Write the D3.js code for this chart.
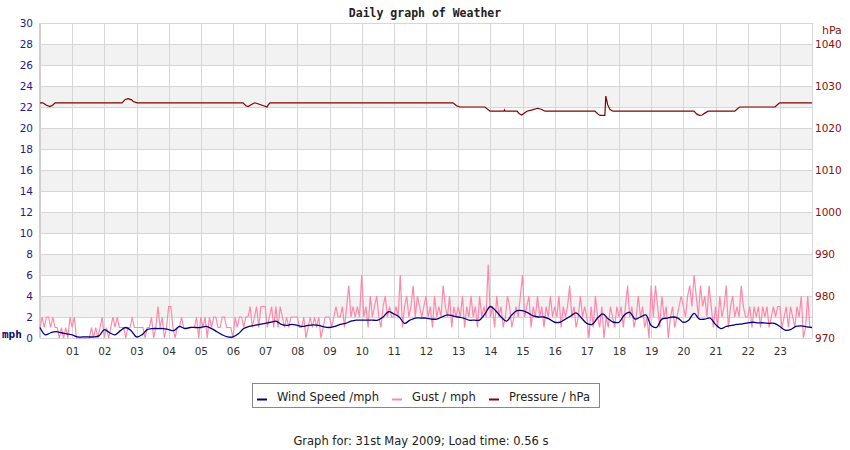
<!DOCTYPE html>
<html>
<head>
<meta charset="utf-8">
<script src="https://cdn.jsdelivr.net/npm/d3@7"></script>
<style>
body { margin:0; background:#fff; }
text { font-family: "DejaVu Sans", sans-serif; }
.title { font-family: "DejaVu Sans Mono", monospace; font-weight:bold; font-size:11.5px; fill:#222; }
.unit { font-family: "DejaVu Sans Mono", monospace; font-weight:bold; font-size:11px; fill:#0a0a70; }
.laxis text { fill:#1c1c8c; font-size:10.5px; }
.raxis text { fill:#8b1010; font-size:10.5px; }
.xaxis text { fill:#333; font-size:10.5px; }
.legend_text { font-size:11.5px; fill:#222; }
.foot { font-size:11.5px; fill:#222; }
</style>
</head>
<body>
<div id="chart"></div>
<script>
// hour labels along the bottom
var hourLabels = ["01","02","03","04","05","06","07","08","09","10","11","12","13","14","15","16","17","18","19","20","21","22","23"];
var mphTicks = [0,2,4,6,8,10,12,14,16,18,20,22,24,26,28,30];
var hpaTicks = [970,980,990,1000,1010,1020,1030,1040];

// wind speed, mph, one row per hour, every 10 minutes
var windRows = [
 [1.0,0.3,0.5,0.6,0.5,0.4],
 [0.3,0.1,0.1,0.1,0.1,0.2],
 [0.8,0.5,0.3,0.7,1.0,0.7],
 [0.1,0.3,0.8,0.9,0.9,0.9],
 [0.8,0.7,1.1,0.9,1.0,1.0],
 [1.0,1.1,0.9,0.6,0.3,0.1],
 [0.1,0.4,0.9,1.1,1.2,1.3],
 [1.4,1.5,1.6,1.3,1.2,1.3],
 [1.2,1.1,1.2,1.25,1.2,1.05],
 [1.0,1.1,1.3,1.4,1.6,1.7],
 [1.7,1.7,1.7,1.7,2.0,2.5],
 [2.3,2.0,1.4,1.7,1.9,1.9],
 [1.9,1.8,1.8,2.0,2.2,2.1],
 [2.0,1.9,1.7,1.7,1.7,2.3],
 [3.0,2.6,2.0,1.6,2.2,2.6],
 [2.6,2.4,2.1,2.0,2.0,1.8],
 [1.5,1.5,1.8,2.1,2.4,1.9],
 [1.4,1.3,1.9,2.3,1.8,1.5],
 [1.5,2.2,2.45,1.8,2.0,2.2],
 [1.2,1.0,1.8,1.9,2.0,1.9],
 [1.5,1.7,2.35,1.8,1.8,1.9],
 [1.3,0.9,1.1,1.2,1.3,1.35],
 [1.45,1.5,1.45,1.45,1.4,1.4],
 [1.1,0.75,0.8,1.1,1.15,1.05],
 [1.0]
];

// gust, mph, one row per hour, every 4 minutes
var gustRows = [
 [1,2,1,2,2,1,2,1,1,0,1,0,1,0,2],
 [1,2,0,0,0,0,0,0,0,1,0,1,0,1,2],
 [0,1,0,1,2,1,2,1,1,1,0,1,1,2,1],
 [1,1,1,1,0,1,1,2,0,1,3,1,2,0,1],
 [3,3,1,0,1,1,2,1,1,1,1,1,1,2,0],
 [2,1,2,0,2,1,2,2,1,1,2,2,1,1,1],
 [0,2,1,2,2,1,2,2,3,1,2,3,1,3,3],
 [3,1,2,3,1,3,1,3,2,1,2,1,2,2,2],
 [2,1,1,2,0,1,2,1,2,1,2,0,1,2,2],
 [2,1,2,3,2,2,3,1,3,5,2,3,2,3,2],
 [6,2,3,1,4,2,3,4,2,1,3,4,2,3,2],
 [2,3,2,6,1,3,4,2,3,5,2,4,3,2,3],
 [4,2,3,1,4,2,3,2,5,3,2,4,1,3,2],
 [3,2,4,1,3,2,4,2,3,1,4,2,3,2,7],
 [2,3,1,4,2,3,1,2,4,3,1,2,3,2,4],
 [6,2,3,4,1,3,2,4,2,3,1,3,2,4,2],
 [3,2,4,1,3,2,3,5,2,3,1,2,4,2,3],
 [2,0,3,1,4,2,1,3,0,2,1,3,2,1,3],
 [2,3,1,3,5,2,3,1,2,4,2,3,1,2,0],
 [5,2,5,3,1,4,2,3,0,2,3,1,2,3,4],
 [3,2,4,5,3,6,4,2,5,3,4,2,5,3,1],
 [3,1,4,2,3,5,1,3,4,2,3,2,5,3,2],
 [2,3,1,3,2,3,1,3,2,3,1,2,3,2,3],
 [3,1,2,3,1,3,2,1,3,2,4,0,1,4,1]
];

// pressure, hPa, [hour, value] where it changes
var pressure = [
 [0,1026],[0.09,1026],[0.2,1025.4],[0.31,1025.1],[0.4,1025.5],[0.47,1026],
 [2.55,1026],[2.65,1026.8],[2.74,1027],[2.85,1026.7],[2.9,1026.3],[3.02,1026],
 [6.31,1026],[6.4,1025.3],[6.47,1025.1],[6.6,1025.7],[6.68,1026],[6.84,1025.6],[6.95,1025.3],[7.06,1025],[7.1,1025.6],[7.15,1026],
 [12.84,1026],[12.95,1025.3],[13.06,1025],[13.83,1025],[13.99,1024],[14.42,1024],[14.44,1024.3],[14.46,1024],
 [14.83,1024],[14.9,1023.4],[14.98,1023.1],[15.05,1023.5],[15.14,1024],[15.3,1024.3],[15.48,1024.7],[15.6,1024.4],[15.7,1024],
 [17.25,1024],[17.35,1023.3],[17.41,1023],[17.56,1023],[17.59,1027.6],[17.65,1025.5],[17.72,1024.4],[17.81,1024],
 [20.33,1024],[20.42,1023.3],[20.5,1023],[20.58,1023.1],[20.68,1023.6],[20.77,1024],
 [21.6,1024],[21.7,1024.7],[21.76,1025],[22.85,1025],[22.95,1025.7],[23.0,1026],[24,1026]
];

var legendItems = [
 {name:"Wind Speed /mph", color:"#000080"},
 {name:"Gust / mph", color:"#ff88aa"},
 {name:"Pressure / hPa", color:"#8b0000"}
];

var weather_graph = function(){
	var svg = d3.select("#chart").append("svg").attr("width", 850).attr("height", 450);

	var x = d3.scaleLinear().domain([0,24]).range([40,812]);
	var y = d3.scaleLinear().domain([0,30]).range([338,23]);
	var y2 = d3.scaleLinear().domain([970,1045]).range([338,23]);

	// grey bands every other 2 mph
	svg.append("g").selectAll("rect").data(d3.range(2,28,4)).enter()
		.append("rect")
		.attr("x", x(0)).attr("width", x(24)-x(0))
		.attr("y", function(d){ return y(d+2); })
		.attr("height", function(d){ return y(d)-y(d+2); })
		.attr("fill", "#f2f2f2");

	svg.append("g").selectAll("line").data(mphTicks).enter()
		.append("line")
		.attr("x1", x(0)).attr("x2", x(24))
		.attr("y1", function(d){ return y(d)+0.5; }).attr("y2", function(d){ return y(d)+0.5; })
		.attr("stroke", "#d6d6d6");

	svg.append("g").selectAll("line").data(d3.range(1,25)).enter()
		.append("line")
		.attr("x1", function(d){ return Math.round(x(d))+0.5; }).attr("x2", function(d){ return Math.round(x(d))+0.5; })
		.attr("y1", y(30)).attr("y2", y(0))
		.attr("stroke", "#d6d6d6");

	svg.append("line").attr("x1", x(0)).attr("x2", x(0)).attr("y1", y(30)).attr("y2", y(0))
		.attr("stroke", "#cfcfcf").attr("stroke-width", 2);

	var yAxis = d3.axisLeft(y).tickValues(mphTicks).tickSize(0).tickPadding(7);
	var y2Axis = d3.axisRight(y2).tickValues(hpaTicks).tickFormat(d3.format("d")).tickSize(0).tickPadding(3);
	var xAxis = d3.axisBottom(x).tickValues(d3.range(1,24)).tickFormat(function(d){ return hourLabels[d-1]; })
		.tickSize(0).tickPadding(10);

	svg.append("g").attr("class","laxis").attr("transform","translate(40,0)").call(yAxis);
	svg.append("g").attr("class","raxis").attr("transform","translate(812,0)").call(y2Axis);
	svg.append("g").attr("class","xaxis").attr("transform","translate(0,338)").call(xAxis);
	svg.selectAll(".domain").remove();

	svg.append("text").attr("class","unit").attr("x", 2).attr("y", 338).text("mph");
	svg.append("text").attr("x", 822).attr("y", 34).attr("font-size","11px")
		.attr("fill","#8b1010").text("hPa");

	svg.append("text").attr("class","title").attr("text-anchor","middle")
		.attr("x", 425).attr("y", 17).text("Daily graph of Weather");

	var gust = [];
	gustRows.forEach(function(row, h){
		row.forEach(function(v, i){ gust.push([h + i*4/60, v]); });
	});
	var wind = [];
	windRows.forEach(function(row, h){
		row.forEach(function(v, i){ wind.push([h + i*10/60, v]); });
	});

	var line = d3.line().x(function(d){ return x(d[0]); }).y(function(d){ return y(d[1]); });
	var smooth = d3.line().curve(d3.curveCatmullRom)
		.x(function(d){ return x(d[0]); }).y(function(d){ return y(d[1]); });
	var pline = d3.line().x(function(d){ return x(d[0]); }).y(function(d){ return y2(d[1]); });

	svg.append("path").datum(gust)
		.attr("fill","none").attr("stroke","#ff88aa").attr("stroke-width",1.2)
		.attr("d", line);

	svg.append("path").datum(wind)
		.attr("fill","none").attr("stroke","#000080").attr("stroke-width",1.3)
		.attr("d", smooth);

	svg.append("path").datum(pressure)
		.attr("fill","none").attr("stroke","#800000").attr("stroke-width",1.2)
		.attr("d", pline);

	// legend
	svg.append("rect").attr("x",252.5).attr("y",383.5).attr("width",347).attr("height",24)
		.attr("fill","white").attr("stroke","#888");

	var legX = [257, 392, 489];
	svg.append("g").selectAll("line").data(legendItems).enter()
		.append("line")
		.attr("x1", function(d,i){ return legX[i]; })
		.attr("x2", function(d,i){ return legX[i]+10; })
		.attr("y1", 399.5).attr("y2", 399.5)
		.attr("stroke", function(d){ return d.color; }).attr("stroke-width", 2);

	svg.append("g").selectAll("text").data(legendItems).enter()
		.append("text").attr("class","legend_text")
		.attr("x", function(d,i){ return legX[i]+20; })
		.attr("y", 401)
		.text(function(d){ return d.name; });

	svg.append("text").attr("class","foot").attr("text-anchor","middle")
		.attr("x", 421).attr("y", 445).text("Graph for: 31st May 2009; Load time: 0.56 s");
};

window.onload = function(){
	weather_graph();
};
</script>
</body>
</html>
